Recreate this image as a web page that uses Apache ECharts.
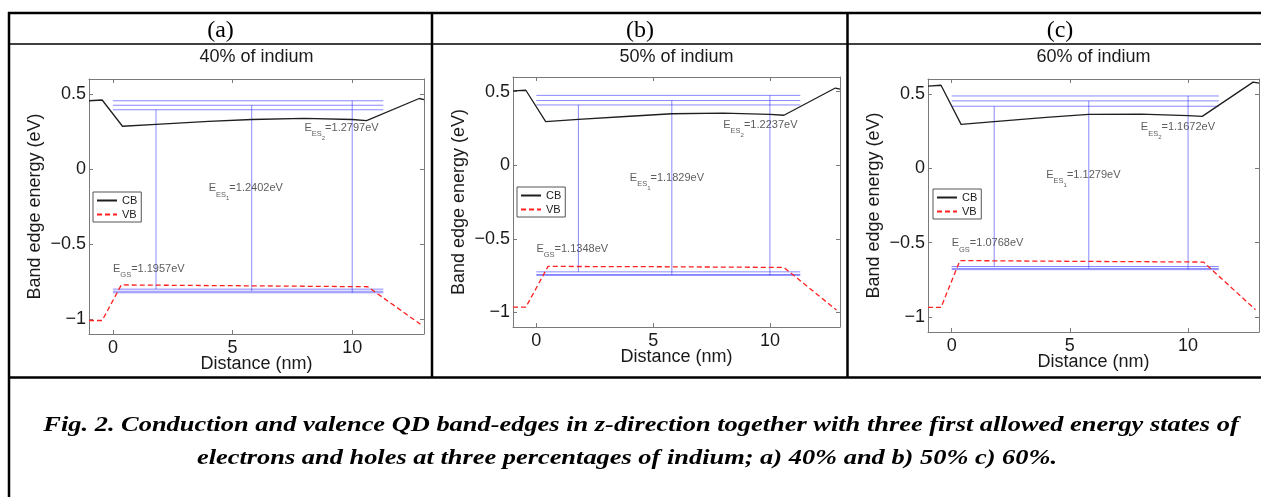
<!DOCTYPE html>
<html>
<head>
<meta charset="utf-8">
<title>QD band edges</title>
<script src="https://cdn.jsdelivr.net/npm/echarts@6.0.0/dist/echarts.min.js"></script>
<style>
  html, body { margin: 0; padding: 0; background: #fff; }
  #chart { width: 1261px; height: 497px; }
</style>
</head>
<body>
<div id="chart"></div>
<script>
// ticks and texts
const xTicks = [0, 5, 10];
const yTicks = [-1, -0.5, 0, 0.5];
const heads = ['(a)', '(b)', '(c)'];
const titles = ['40% of indium', '50% of indium', '60% of indium'];
const legendNames = ['CB', 'VB'];
const caption = [
  'Fig. 2. Conduction and valence QD band-edges in z-direction together with three first allowed energy states of',
  'electrons and holes at three percentages of indium; a) 40% and b) 50% c) 60%.'
];

// conduction band edge [distance nm, energy eV]
const cbA = [[-1, 0.455], [-0.45, 0.46], [0.4, 0.285], [1.8, 0.298], [4, 0.318], [5.8, 0.33], [8, 0.338], [10, 0.33], [10.6, 0.322], [12.8, 0.47], [13, 0.462]];
const cbB = [[-1, 0.505], [-0.45, 0.51], [0.4, 0.296], [1.8, 0.312], [4, 0.333], [5.8, 0.35], [8, 0.355], [10, 0.346], [10.6, 0.34], [12.8, 0.525], [13, 0.518]];
const cbC = [[-1, 0.552], [-0.45, 0.558], [0.4, 0.295], [1.8, 0.313], [4, 0.342], [5.8, 0.362], [8, 0.364], [10, 0.354], [10.6, 0.349], [12.75, 0.579], [13, 0.572]];

// valence band edge
const vbA = [[-1, -1.01], [-0.45, -1.01], [0.35, -0.773], [5, -0.778], [10.65, -0.785], [12.85, -1.035]];
const vbB = [[-1, -0.965], [-0.45, -0.965], [0.5, -0.688], [5, -0.69], [10.6, -0.695], [12.85, -0.985]];
const vbC = [[-1, -0.935], [-0.45, -0.935], [0.35, -0.62], [5, -0.625], [10.65, -0.63], [12.85, -0.95]];

// allowed states: electron / hole levels and transitions
const levelX = [0, 11.3];
const transX = [1.8, 5.8, 10];
const elecA = [0.395, 0.425, 0.455];
const holeA = [-0.801, -0.815, -0.825];
const elecB = [0.41, 0.44, 0.475];
const holeB = [-0.725, -0.743, -0.749];
const elecC = [0.417, 0.453, 0.486];
const holeC = [-0.66, -0.673, -0.681];

// transition energies (eV) and where their notes sit
const gapA = ['1.1957', '1.2402', '1.2797'];
const gapB = ['1.1348', '1.1829', '1.2237'];
const gapC = ['1.0768', '1.1279', '1.1672'];
const noteSub = ['GS', 'ES', 'ES'];
const noteSubSub = ['', '1', '2'];
const noteA = [[0, -0.67], [4, -0.135], [8, 0.27]];
const noteB = [[0, -0.575], [4, -0.09], [8, 0.27]];
const noteC = [[0, -0.51], [4, -0.05], [8, 0.27]];

const panels = [
  { cb: cbA, vb: vbA, elec: elecA, hole: holeA, gap: gapA, note: noteA },
  { cb: cbB, vb: vbB, elec: elecB, hole: holeB, gap: gapB, note: noteB },
  { cb: cbC, vb: vbC, elec: elecC, hole: holeC, gap: gapC, note: noteC }
];

// layout
const boxes = [
  { left: 89, top: 79, width: 335, height: 255, legend: [93, 192] },
  { left: 513, top: 77, width: 327, height: 250, legend: [517, 187] },
  { left: 928, top: 79, width: 331, height: 253, legend: [933, 189] }
];
const headX = [220.5, 640, 1060];

const SANS = '"Liberation Sans", Arial, Helvetica, sans-serif';
const SERIF = '"Liberation Serif", "Times New Roman", serif';
const AXIS_GREY = '#7a7a7a';
const INK = '#1a1a1a';
const LEVEL = 'rgba(40, 40, 255, 0.55)';

function minus(v) {
  return v < 0 ? '\u2212' + Math.abs(v) : String(v);
}

const rich = {
  e: { fontSize: 11, fontFamily: SANS, color: '#333', verticalAlign: 'top', lineHeight: 13 },
  s: { fontSize: 7.5, fontFamily: SANS, color: '#333', verticalAlign: 'top', padding: [8, 0, 0, 0] },
  t: { fontSize: 6, fontFamily: SANS, color: '#333', verticalAlign: 'top', padding: [13, 0, 0, 0] }
};

const grids = [], xAxes = [], yAxes = [], series = [], legends = [], graphics = [];

panels.forEach((p, i) => {
  const b = boxes[i];
  grids.push({ left: b.left, top: b.top, width: b.width, height: b.height, outerBoundsMode: 'none' });

  const axisLine = { show: true, onZero: false, lineStyle: { color: AXIS_GREY, width: 1 } };
  const tickX = { show: true, inside: true, length: 4, customValues: xTicks, lineStyle: { color: AXIS_GREY } };
  const tickY = { show: true, inside: true, length: 4, customValues: yTicks, lineStyle: { color: AXIS_GREY } };
  const labelStyle = { color: INK, fontSize: 18, fontFamily: SANS };

  xAxes.push({
    type: 'value', gridIndex: i, min: -1, max: 13, position: 'bottom',
    axisLine: axisLine, axisTick: tickX, splitLine: { show: false },
    axisLabel: Object.assign({ customValues: xTicks, margin: 5 }, labelStyle),
    name: 'Distance (nm)', nameLocation: 'middle', nameGap: 21, nameMoveOverlap: false,
    nameTextStyle: labelStyle
  });
  xAxes.push({
    type: 'value', gridIndex: i, min: -1, max: 13, position: 'top',
    axisLine: axisLine, axisTick: tickX, splitLine: { show: false }, axisLabel: { show: false }
  });
  yAxes.push({
    type: 'value', gridIndex: i, min: -1.1, max: 0.6, position: 'left',
    axisLine: axisLine, axisTick: tickY, splitLine: { show: false },
    axisLabel: Object.assign({ customValues: yTicks, margin: 3, formatter: minus }, labelStyle),
    name: 'Band edge energy (eV)', nameLocation: 'middle', nameGap: 45, nameMoveOverlap: false,
    nameTextStyle: labelStyle
  });
  yAxes.push({
    type: 'value', gridIndex: i, min: -1.1, max: 0.6, position: 'right',
    axisLine: axisLine, axisTick: tickY, splitLine: { show: false }, axisLabel: { show: false }
  });

  const ax = { xAxisIndex: 2 * i, yAxisIndex: 2 * i, silent: true, animation: false };

  // energy levels and transitions
  p.elec.concat(p.hole).forEach(v => {
    series.push(Object.assign({
      type: 'line', symbol: 'none', z: 2,
      data: [[levelX[0], v], [levelX[1], v]],
      lineStyle: { color: LEVEL, width: 1 }
    }, ax));
  });
  transX.forEach((x, k) => {
    series.push(Object.assign({
      type: 'line', symbol: 'none', z: 2,
      data: [[x, p.elec[k]], [x, p.hole[k]]],
      lineStyle: { color: LEVEL, width: 1 }
    }, ax));
  });

  series.push(Object.assign({
    type: 'line', name: 'CB', symbol: 'none', z: 4, data: p.cb,
    lineStyle: { color: '#1f1f1f', width: 1.3 }, itemStyle: { color: '#1f1f1f' }
  }, ax));
  series.push(Object.assign({
    type: 'line', name: 'VB', symbol: 'none', z: 4, data: p.vb,
    lineStyle: { color: '#ff2020', width: 1.3, type: [5, 3] }, itemStyle: { color: '#ff2020' }
  }, ax));

  // E_GS / E_ES notes
  series.push(Object.assign({
    type: 'scatter', symbolSize: 0.1, z: 5,
    itemStyle: { color: 'rgba(0,0,0,0)' },
    label: { show: true, position: 'right', distance: 0, verticalAlign: 'top', offset: [0, -6.5], rich: rich },
    data: p.note.map((pt, k) => ({
      value: pt,
      label: {
        formatter: '{e|E}{s|' + noteSub[k] + '}' + (noteSubSub[k] ? '{t|' + noteSubSub[k] + '}' : '') + '{e|=' + p.gap[k] + 'eV}'
      }
    }))
  }, ax));

  legends.push({
    data: legendNames, left: b.legend[0], top: b.legend[1], orient: 'vertical',
    itemWidth: 20, itemHeight: 10, itemGap: 3, padding: [3, 4, 2, 3],
    borderColor: '#555', borderWidth: 1, backgroundColor: '#fff',
    itemStyle: { opacity: 0, borderWidth: 0 },
    selectedMode: false, textStyle: { fontSize: 11, fontFamily: SANS, color: INK }
  });

  // panel head and plot title
  graphics.push({
    type: 'text', x: headX[i], y: 31, silent: true,
    style: { text: heads[i], font: '24px ' + SERIF, fill: '#000', align: 'center', verticalAlign: 'middle', textAlign: 'center', textVerticalAlign: 'middle' }
  });
  graphics.push({
    type: 'text', x: b.left + b.width / 2, y: 57, silent: true,
    style: { text: titles[i], font: '18px ' + SANS, fill: INK, align: 'center', verticalAlign: 'middle', textAlign: 'center', textVerticalAlign: 'middle' }
  });
});

// table frame
function rule(x1, y1, x2, y2, w) {
  return { type: 'line', silent: true, shape: { x1: x1, y1: y1, x2: x2, y2: y2 }, style: { stroke: '#000', lineWidth: w } };
}
graphics.push(rule(8, 13, 1261, 13, 2.5));
graphics.push(rule(8, 44, 1261, 44, 1.5));
graphics.push(rule(8, 377.5, 1261, 377.5, 2.5));
graphics.push(rule(9, 12, 9, 497, 2.5));
graphics.push(rule(432, 12, 432, 378, 2.5));
graphics.push(rule(847.5, 12, 847.5, 378, 2.5));

// caption, Times-like bold italic stretched a bit wider as in the figure
const capFont = 'italic bold 22px ' + SERIF;
graphics.push({
  type: 'text', x: 641, y: 425, scaleX: 1.2, silent: true,
  style: { text: caption[0], font: capFont, fill: '#000', align: 'center', verticalAlign: 'middle', textAlign: 'center', textVerticalAlign: 'middle' }
});
graphics.push({
  type: 'text', x: 627, y: 458, scaleX: 1.2, silent: true,
  style: { text: caption[1], font: capFont, fill: '#000', align: 'center', verticalAlign: 'middle', textAlign: 'center', textVerticalAlign: 'middle' }
});

const chart = echarts.init(document.getElementById('chart'));
chart.setOption({
  animation: false,
  backgroundColor: '#fff',
  grid: grids,
  xAxis: xAxes,
  yAxis: yAxes,
  legend: legends,
  series: series,
  graphic: graphics
});
</script>
</body>
</html>
